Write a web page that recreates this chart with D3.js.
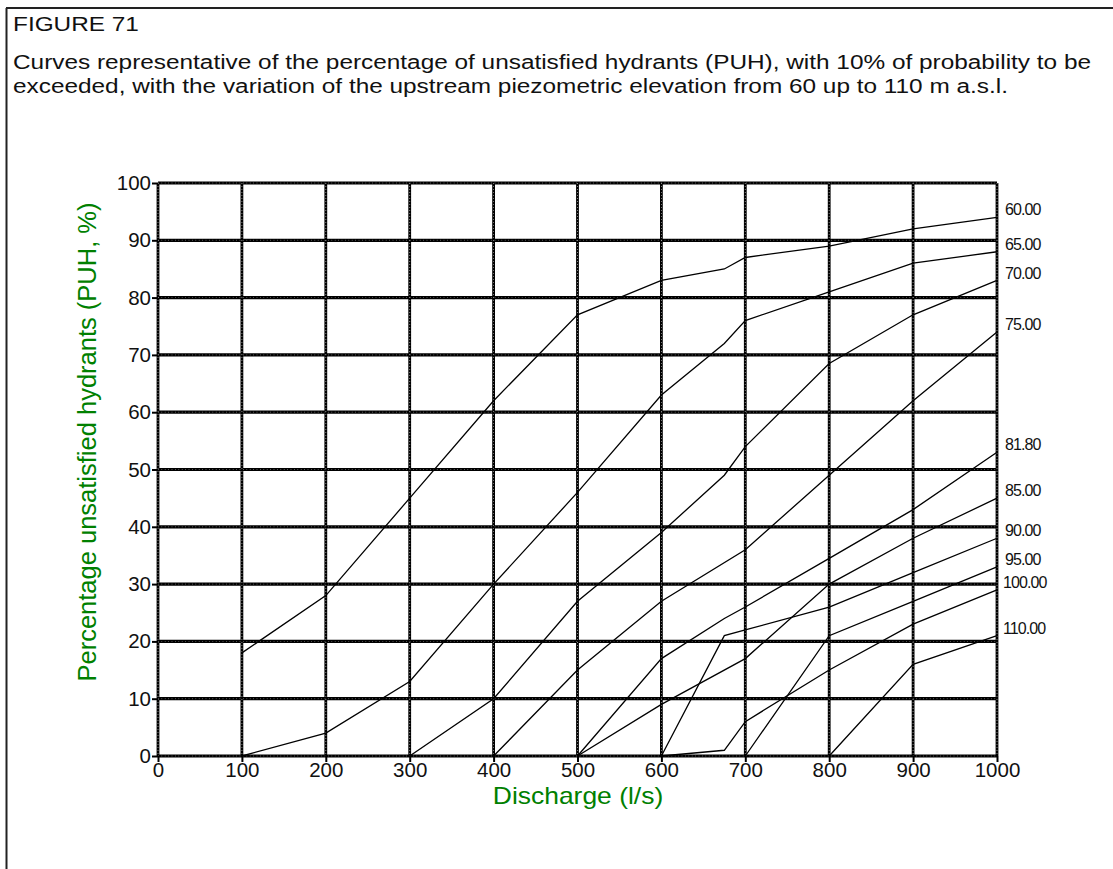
<!DOCTYPE html>
<html>
<head>
<meta charset="utf-8">
<script src="https://cdn.jsdelivr.net/npm/d3@7"></script>
<style>
  html, body { margin: 0; padding: 0; background: #fff; }
  svg { display: block; font-family: Arial, "Liberation Sans", sans-serif; }
</style>
</head>
<body>
<svg id="chart" width="1113" height="869"></svg>
<script>
// ---------- data ----------
const titleLines = [
  "FIGURE 71",
  "Curves representative of the percentage of unsatisfied hydrants (PUH), with 10% of probability to be",
  "exceeded, with the variation of the upstream piezometric elevation from 60 up to 110 m a.s.l."
];
const xTitle = "Discharge (l/s)";
const yTitle = "Percentage unsatisfied hydrants (PUH, %)";
const xTicks = [0, 100, 200, 300, 400, 500, 600, 700, 800, 900, 1000];
const yTicks = [0, 10, 20, 30, 40, 50, 60, 70, 80, 90, 100];
const elevationLabels = ["60.00", "65.00", "70.00", "75.00", "81.80", "85.00", "90.00", "95.00", "100.00", "110.00"];

const curve60  = [[100,18],[200,28],[300,45],[400,62],[500,77],[600,83],[675,85],[700,87],[800,89],[900,92],[1000,94]];
const curve65  = [[100,0],[200,4],[300,13],[400,30],[500,46],[600,63],[675,72],[700,76],[800,81],[900,86],[1000,88]];
const curve70  = [[300,0],[400,10],[500,27],[600,39],[675,49],[700,54],[800,68.5],[900,77],[1000,83]];
const curve75  = [[400,0],[500,15],[600,27],[700,36],[800,49],[900,62],[1000,74]];
const curve818 = [[500,0],[600,17],[675,24],[700,26],[800,34.5],[900,43],[1000,53]];
const curve85  = [[500,0],[600,9],[700,17],[800,30],[900,38],[1000,45]];
const curve90  = [[600,0],[675,21],[700,22],[800,26],[900,32],[1000,38]];
const curve95  = [[700,0],[800,21],[900,27],[1000,33]];
const curve100 = [[600,0],[675,1],[700,6],[800,15],[900,23],[1000,29]];
const curve110 = [[800,0],[900,16],[1000,21]];
const curves = [curve60, curve65, curve70, curve75, curve818, curve85, curve90, curve95, curve100, curve110];

// ---------- drawing ----------
const svg = d3.select("#chart");
const green = "#008000";
const wide = 1.25; // the reference text is horizontally widened

// outer frame (top and left edges)
svg.append("line").attr("x1", 6).attr("x2", 1113).attr("y1", 8).attr("y2", 8)
  .attr("stroke", "#222").attr("stroke-width", 2);
svg.append("line").attr("x1", 6.5).attr("x2", 6.5).attr("y1", 8).attr("y2", 869)
  .attr("stroke", "#222").attr("stroke-width", 2);

// title
const titleBase = [31, 69, 93];
titleLines.forEach((t, i) => {
  svg.append("text").attr("transform", `translate(13,${titleBase[i]}) scale(${wide},1)`)
    .attr("font-size", 19.5).attr("fill", "#111").text(t);
});

const x = d3.scaleLinear().domain([0, 1000]).range([158, 997]);
const y = d3.scaleLinear().domain([0, 100]).range([756, 183]);

// grid
const grid = svg.append("g");
grid.selectAll(".hg").data(yTicks).enter().append("line")
  .attr("x1", x(0)).attr("x2", x(1000)).attr("y1", d => y(d)).attr("y2", d => y(d))
  .attr("stroke", "#000").attr("stroke-width", 3.2);
grid.selectAll(".vg").data(xTicks).enter().append("line")
  .attr("x1", d => x(d)).attr("x2", d => x(d)).attr("y1", y(100)).attr("y2", y(0))
  .attr("stroke", "#000").attr("stroke-width", 2.8);
// white specks inside grid lines
grid.selectAll(".hgd").data(yTicks).enter().append("line")
  .attr("x1", x(0)).attr("x2", x(1000)).attr("y1", d => y(d)).attr("y2", d => y(d))
  .attr("stroke", "#fff").attr("stroke-width", 0.7).attr("stroke-dasharray", "0.8,2.6").attr("opacity", 0.6);
grid.selectAll(".vgd").data(xTicks).enter().append("line")
  .attr("x1", d => x(d)).attr("x2", d => x(d)).attr("y1", y(100)).attr("y2", y(0))
  .attr("stroke", "#fff").attr("stroke-width", 0.8).attr("stroke-dasharray", "0.8,2.2").attr("opacity", 0.8);

// axes
const yAxis = d3.axisLeft(y).tickValues(yTicks).tickSize(6).tickPadding(1).tickFormat(d3.format("d"));
const gy = svg.append("g").attr("transform", `translate(${x(0)},0)`).call(yAxis);
gy.select(".domain").remove();
gy.selectAll(".tick line").attr("stroke", "#000").attr("stroke-width", 2);
gy.selectAll(".tick text").attr("font-size", 20.5).attr("fill", "#111")
  .attr("font-family", "Arial, 'Liberation Sans', sans-serif");

const xAxis = d3.axisBottom(x).tickValues(xTicks).tickSize(6).tickPadding(0).tickFormat(d3.format("d"));
const gx = svg.append("g").attr("transform", `translate(0,${y(0)})`).call(xAxis);
gx.select(".domain").remove();
gx.selectAll(".tick line").attr("stroke", "#000").attr("stroke-width", 2);
gx.selectAll(".tick text").attr("font-size", 20.5).attr("fill", "#111")
  .attr("font-family", "Arial, 'Liberation Sans', sans-serif");

// curves
const line = d3.line().x(d => x(d[0])).y(d => y(d[1]));
svg.append("g").selectAll("path").data(curves).enter().append("path")
  .attr("d", line).attr("fill", "none").attr("stroke", "#000").attr("stroke-width", 1.3);

// curve labels
svg.append("g").selectAll("text").data(curves).enter().append("text")
  .attr("x", (d, i) => elevationLabels[i].length > 5 ? x(1000) + 6 : x(1000) + 8)
  .attr("y", d => y(d[d.length - 1][1]) - 7.5)
  .attr("dy", "0.35em")
  .attr("font-size", 16).attr("letter-spacing", "-0.9px").attr("fill", "#111")
  .text((d, i) => elevationLabels[i]);

// axis titles
svg.append("text").attr("transform", `translate(578,796) scale(1.15,1)`).attr("dy", "0.35em").attr("text-anchor", "middle")
  .attr("font-size", 23).attr("fill", green).text(xTitle);
svg.append("text").attr("transform", "translate(87,442) rotate(-90)").attr("dy", "0.35em")
  .attr("text-anchor", "middle").attr("font-size", 25.5).attr("fill", green).text(yTitle);
</script>
</body>
</html>
